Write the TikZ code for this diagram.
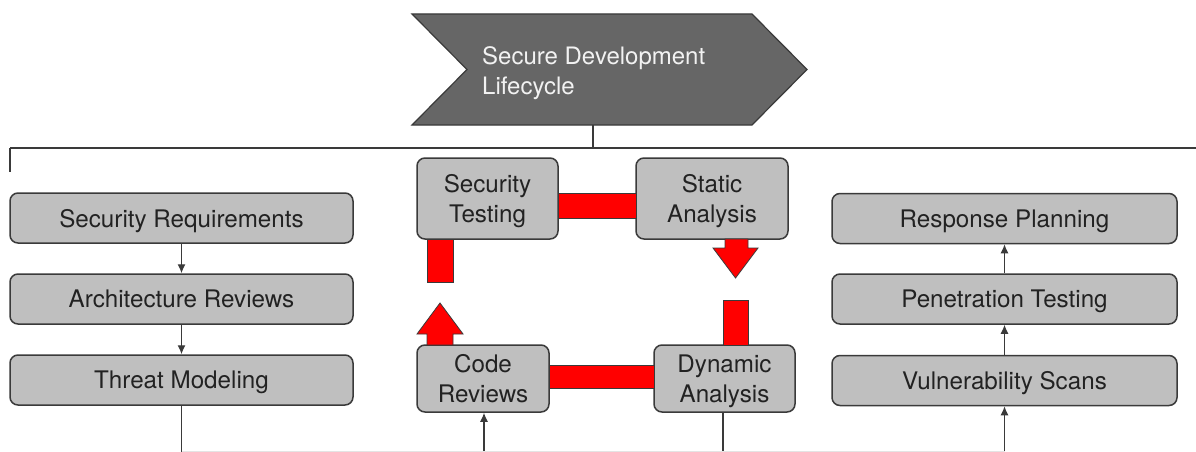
\documentclass[tikz,border=0pt]{standalone}
\usepackage{fontspec}
\setmainfont{TeX Gyre Heros}
\usetikzlibrary{arrows.meta,calc}
\definecolor{chevgray}{HTML}{666666}
\definecolor{boxgray}{HTML}{BFBFBF}
\definecolor{edgegray}{HTML}{3A3A3A}
\definecolor{txtgray}{HTML}{222222}
\definecolor{lightline}{HTML}{E4E4E4}
\definecolor{redfill}{HTML}{FF0000}
\begin{document}
\begin{tikzpicture}[x=1pt,y=-1pt,
  box/.style={draw=edgegray,line width=1.5pt,fill=boxgray,rounded corners=8pt,
    inner sep=0pt,align=center,text=txtgray,text depth=0pt,
    font=\fontsize{24.2}{30}\selectfont},
  wire/.style={draw=edgegray,line width=1.3pt},
  arr/.style={wire,-{Latex[length=9pt,width=8pt]}},
  redshape/.style={fill=redfill,draw=edgegray,line width=0.8pt}
]
\useasboundingbox (0,0) rectangle (1196,452);
\fill[white] (0,0) rectangle (1196,452);

% chevron
\filldraw[fill=chevgray,draw=edgegray,line width=1.2pt]
  (412,14) -- (752,14) -- (807,69.5) -- (752,125) -- (412,125) -- (467,69.5) -- cycle;
\node[anchor=west,align=left,text=white!90!gray,inner sep=0pt,
  font=\fontsize{24}{30}\selectfont] (sdl) at (482,73) {Secure Development\\Lifecycle};
\coordinate (sdlb) at (593,125);
\coordinate (bus) at (593,148);
\coordinate (busL) at (10,148);
\coordinate (busR) at (1196,148);
\coordinate (tickL) at (10,172);

% left column
\node[box,minimum width=343pt,minimum height=50pt] (SR) at (181.5,218) {Security Requirements};
\node[box,minimum width=343pt,minimum height=50pt] (AR) at (181.5,299) {Architecture Reviews};
\node[box,minimum width=343pt,minimum height=50pt] (TM) at (181.5,380) {Threat Modeling};

% right column
\node[box,minimum width=345pt,minimum height=50pt] (RP) at (1004.5,218.5) {Response Planning};
\node[box,minimum width=345pt,minimum height=50pt] (PT) at (1004.5,299) {Penetration Testing};
\node[box,minimum width=345pt,minimum height=50pt] (VS) at (1004.5,380.5) {Vulnerability Scans};

% middle cycle
\node[box,minimum width=141pt,minimum height=81pt] (ST) at (487.5,198.5) {Security\\Testing};
\node[box,minimum width=152pt,minimum height=81pt] (SA) at (712,198.5) {Static\\Analysis};
\node[box,minimum width=132pt,minimum height=67pt] (CR) at (483,378.5) {Code\\Reviews};
\node[box,minimum width=141pt,minimum height=67pt] (DA) at (724.5,378.5) {Dynamic\\Analysis};

% red flow shapes
\filldraw[redshape] (558,193) rectangle (636,218);
\filldraw[redshape] (725,239) -- (748,239) -- (748,248) -- (758,248) -- (735.5,278)
  -- (713,248) -- (725,248) -- cycle;
\filldraw[redshape] (723,300) rectangle (748,345);
\filldraw[redshape] (549,365) rectangle (654,388);
\filldraw[redshape] (427,345) -- (427,334) -- (417,334) -- (440,303) -- (463,334)
  -- (453,334) -- (453,345) -- cycle;
\filldraw[redshape] (427,239) rectangle (453,282);

% bottom endpoints
\coordinate (bTM) at (181.5,452);
\coordinate (bCR) at (484,452);
\coordinate (bDA) at (723,452);
\coordinate (bVS) at (1004.5,452);

% connectors
\draw[wire] (sdlb) -- (bus);
\draw[wire] (busL) -- (busR);
\draw[wire] (busL) -- (tickL);
\draw[arr] (SR) -- (AR);
\draw[arr] (AR) -- (TM);
\draw[wire] (TM.south) -- (bTM);
\draw[arr] (PT) -- (RP);
\draw[arr] (VS) -- (PT);
\draw[arr] (bVS) -- (VS.south);
\draw[arr] (bCR) -- (CR.south -| bCR);
\draw[wire] (DA.south -| bDA) -- (bDA);
\draw[lightline,line width=1pt] (181.5,451.5) -- (1004.5,451.5);
\end{tikzpicture}
\end{document}
